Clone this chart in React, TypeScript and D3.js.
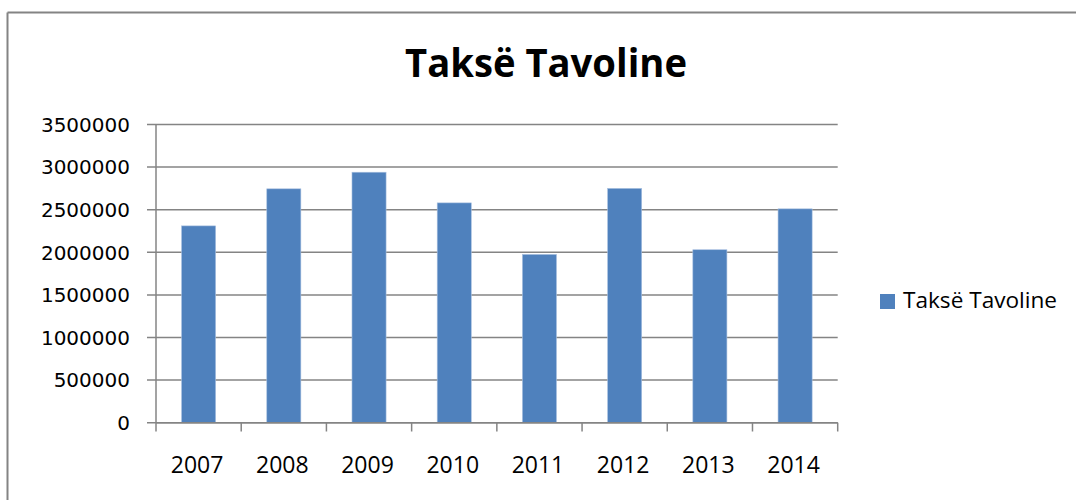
import React from "react";
import * as d3 from "d3";

const categories = ["2007", "2008", "2009", "2010", "2011", "2012", "2013", "2014"];
const values = [2310000, 2745000, 2940000, 2580000, 1975000, 2750000, 2030000, 2510000];
const yTicks = [0, 500000, 1000000, 1500000, 2000000, 2500000, 3000000, 3500000];
const seriesName = "Taksë Tavoline";
const title = "Taksë Tavoline";

export default function App() {
  const W = 1076, H = 500;
  const left = 156, right = 837.7, top = 124.5, bottom = 422.7;
  const x = d3.scaleBand<string>().domain(categories).range([left, right]).paddingInner(0.6).paddingOuter(0.3);
  const y = d3.scaleLinear().domain([0, 3500000]).range([bottom, top]);
  const step = x.step();
  const grid = "#848484";
  return (
    <svg width={W} height={H} style={{ position: "absolute", left: 0, top: 0, background: "#fff" }}>
      <rect x={0} y={0} width={W} height={H} fill="#fff" />
      {/* frame */}
      <line x1={7.5} y1={12.5} x2={W + 5} y2={12.5} stroke={grid} strokeWidth={2} />
      <line x1={7.5} y1={12.5} x2={7.5} y2={H + 5} stroke={grid} strokeWidth={2} />
      {/* title */}
      <text x={546} y={76.7} textAnchor="middle" fontFamily="'Open Sans', sans-serif" fontWeight="bold" fontSize={40} textLength={282} lengthAdjust="spacingAndGlyphs" fill="#000">{title}</text>
      {/* gridlines and y ticks */}
      {yTicks.map((t) => (
        <g key={t}>
          <line x1={147} x2={right} y1={y(t)} y2={y(t)} stroke={grid} strokeWidth={1.5} />
          <text x={130} y={y(t)} dy="0.36em" textAnchor="end" fontFamily="'DejaVu Sans', sans-serif" fontSize={20} fill="#000">{t}</text>
        </g>
      ))}
      {/* bars */}
      {categories.map((c, i) => (
        <rect key={c} x={x(c)} y={y(values[i])} width={x.bandwidth()} height={bottom - y(values[i])} fill="#4f81bd" stroke="#a9c0e0" strokeWidth={0.6} />
      ))}
      {/* y axis */}
      <line x1={left} x2={left} y1={top} y2={bottom} stroke={grid} strokeWidth={1.5} />
      {/* x axis */}
      <line x1={left} x2={right} y1={bottom} y2={bottom} stroke={grid} strokeWidth={1.5} />
      {d3.range(categories.length + 1).map((k) => (
        <line key={k} x1={left + k * step} x2={left + k * step} y1={bottom} y2={431.5} stroke={grid} strokeWidth={1.5} />
      ))}
      {categories.map((c) => (
        <text key={c} x={(x(c) as number) + x.bandwidth() / 2 - 1.5} y={473.3} textAnchor="middle" fontFamily="'Open Sans', sans-serif" fontSize={23} fill="#000">{c}</text>
      ))}
      {/* legend */}
      <rect x={880} y={294} width={15} height={15} fill="#4f81bd" />
      <text x={903} y={308.3} fontFamily="'Open Sans', sans-serif" fontSize={21} textLength={154} lengthAdjust="spacingAndGlyphs" fill="#000">{seriesName}</text>
    </svg>
  );
}
